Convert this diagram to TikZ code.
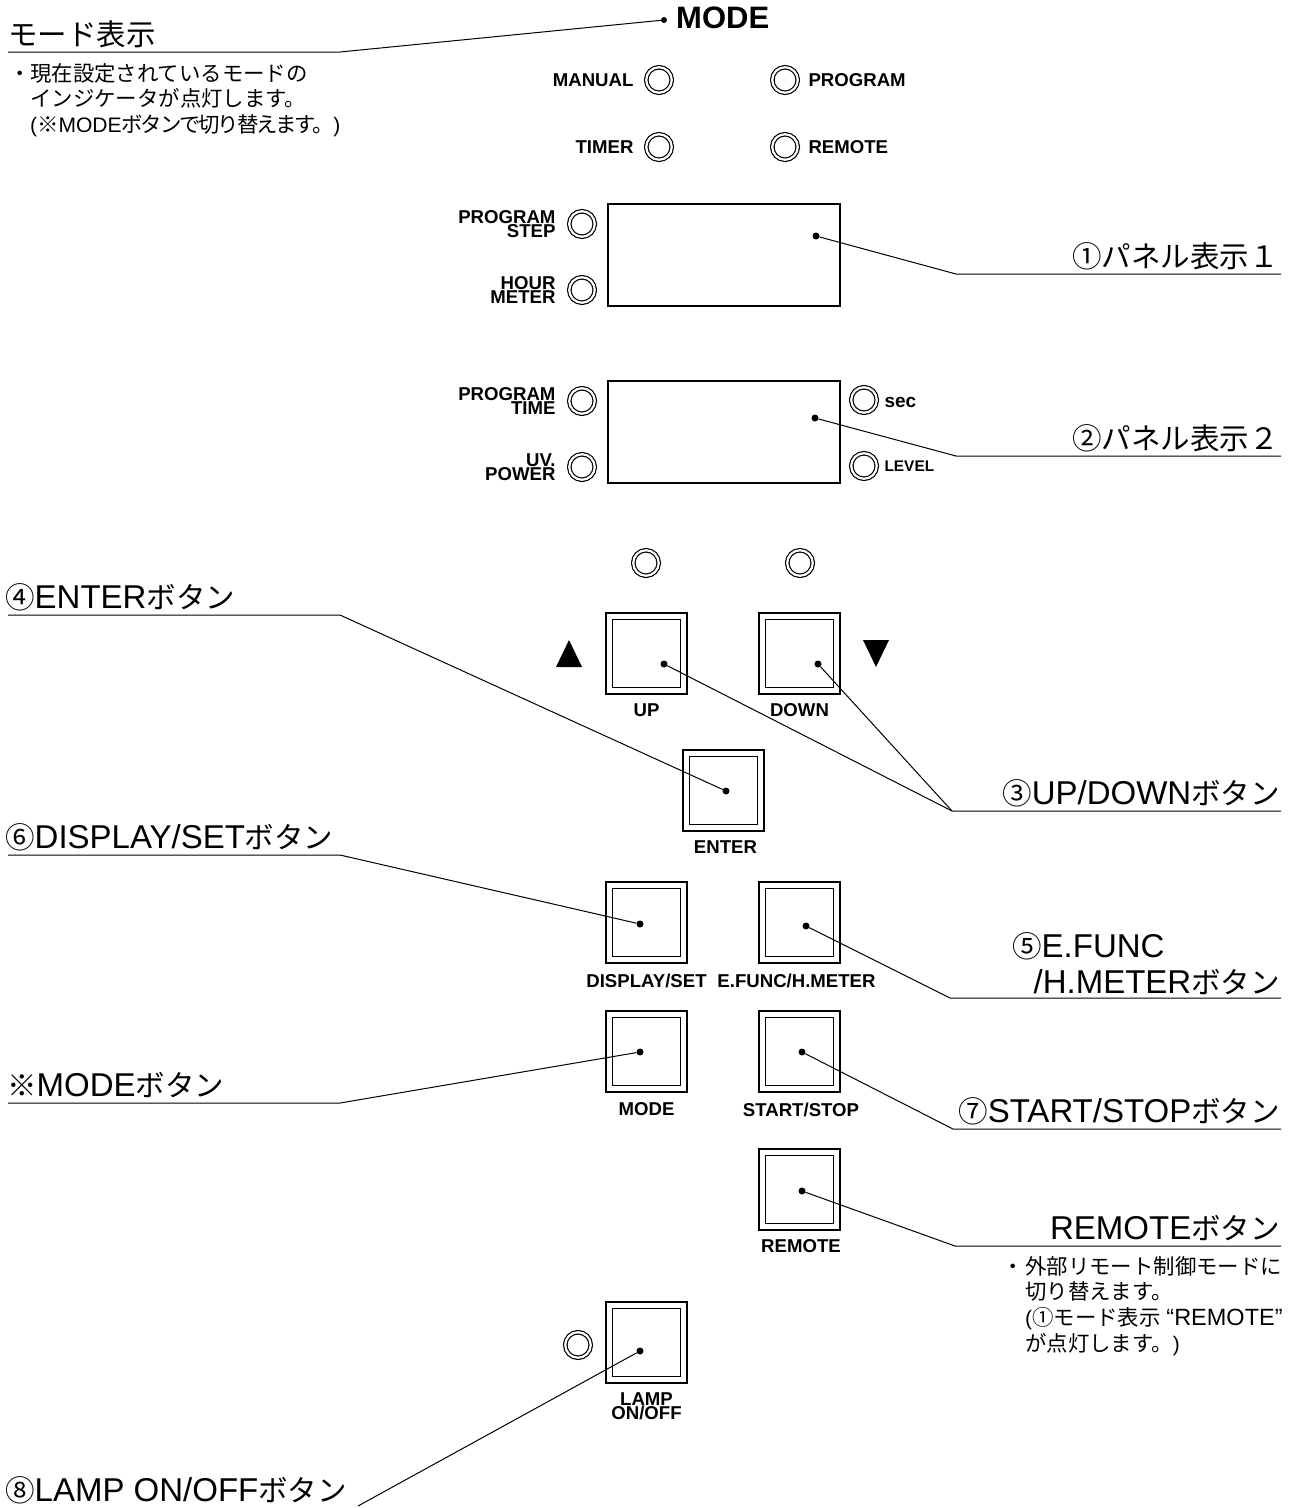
\documentclass[tikz,border=0pt]{standalone}
\usepackage{fontspec}
\usetikzlibrary{positioning}
\setmainfont{Liberation Sans}
\newfontfamily\cjk{Noto Sans CJK JP}
\newcommand{\jpt}[1]{{\cjk\fontsize{29.5}{34}\selectfont #1}}
\newcommand{\jpn}[1]{{\cjk\fontsize{21.4}{25.7}\selectfont #1}}
\newcommand{\jpc}[1]{{\cjk\addfontfeature{LetterSpace=-10}\fontsize{21.4}{25.7}\selectfont #1}}

\begin{document}
\begin{tikzpicture}[
    x=1pt, y=-1pt,
    node distance=8pt,
    panel/.style={rectangle, draw, line width=2pt, minimum width=232pt, minimum height=102pt, inner sep=0pt},
    led/.style={circle, draw, double, double distance=2.2pt, line width=1.2pt, minimum size=25.5pt, inner sep=0pt},
    pushbtn/.style={rectangle, draw, line width=2.4pt, minimum size=81pt, inner sep=0pt,
        path picture={\draw[line width=1.3pt] ([shift={(6.5pt,6.5pt)}]path picture bounding box.south west)
            rectangle ([shift={(-6.5pt,-6.5pt)}]path picture bounding box.north east);}},
    dot/.style={circle, fill=black, minimum size=7pt, inner sep=0pt},
    lead/.style={line width=1pt},
    btnlbl/.style={inner sep=0pt, align=center, font=\bfseries\fontsize{18.6}{14}\selectfont},
    ledlbl/.style={inner sep=0pt, align=right, font=\bfseries\fontsize{18.6}{14}\selectfont},
    title/.style={inner sep=0pt, font=\fontsize{33}{34}\selectfont},
    note/.style={inner sep=0pt, anchor=north west, align=left, font=\fontsize{21}{25.7}\selectfont}
]
\useasboundingbox (0,0) rectangle (1302,1508);

% Mode indicators
\node[dot, minimum size=6pt] (modedot) at (664,20) {};
\node[inner sep=0pt, anchor=west, font=\bfseries\fontsize{31}{34}\selectfont] (modetxt) at (676,18) {MODE};
\node[led] (manual) at (659,80) {};
\node[led] (program) at (785,80) {};
\node[led] (timer) at (659,147) {};
\node[led] (remote) at (785,147) {};
\node[btnlbl, left=12pt of manual] {MANUAL};
\node[btnlbl, right=10pt of program] {PROGRAM};
\node[btnlbl, left=12pt of timer] {TIMER};
\node[btnlbl, right=10pt of remote] {REMOTE};

% Panels
\node[panel] (panela) at (724,255) {};
\node[panel] (panelb) at (724,432) {};
\node[led] (pstep) at (582,224) {};
\node[led] (hour) at (582,290) {};
\node[led] (ptime) at (582,401) {};
\node[led] (uv) at (582,467) {};
\node[led] (sec) at (864,400) {};
\node[led] (level) at (864,466) {};
\node[ledlbl, left=13pt of pstep] {PROGRAM\\STEP};
\node[ledlbl, left=13pt of hour] {HOUR\\METER};
\node[ledlbl, left=13pt of ptime] {PROGRAM\\TIME};
\node[ledlbl, left=13pt of uv] {UV.\\POWER};
\node[btnlbl, right=7pt of sec, yshift=-2pt, font=\bfseries\fontsize{19}{14}\selectfont] {sec};
\node[btnlbl, right=7pt of level, font=\bfseries\fontsize{15.4}{14}\selectfont] {LEVEL};
\node[dot] (panelados) at (816,236) {};
\node[dot] (panelbdot) at (815,418) {};

% Buttons
\node[led] (upled) at (646,563) {};
\node[led] (downled) at (800,563) {};
\node[pushbtn] (up) at (646.5,653.5) {};
\node[pushbtn] (down) at (799.5,653.5) {};
\node[pushbtn] (enter) at (723.5,790.5) {};
\node[pushbtn] (disp) at (646.5,922.5) {};
\node[pushbtn] (efunc) at (799.5,922.5) {};
\node[pushbtn] (modebtn) at (646.5,1051.5) {};
\node[pushbtn] (start) at (799.5,1051.5) {};
\node[pushbtn] (rem) at (799.5,1189.5) {};
\node[pushbtn] (lamp) at (646.5,1342.5) {};
\node[led] (lampled) at (578,1345) {};
\fill (556,667) -- (582,667) -- (569,640) -- cycle;
\fill (863,640) -- (889,640) -- (876,667) -- cycle;

\node[btnlbl, below=of up] {UP};
\node[btnlbl, below=of down] {DOWN};
\node[btnlbl, below=of enter, xshift=2pt] {ENTER};
\node[btnlbl, below=10pt of disp] {DISPLAY/SET};
\node[btnlbl, below=10pt of efunc, xshift=-3pt] {E.FUNC/H.METER};
\node[btnlbl, below=9pt of modebtn] {MODE};
\node[btnlbl, below=10pt of start, xshift=1.5pt] {START/STOP};
\node[btnlbl, below=of rem, xshift=1.5pt] {REMOTE};
\node[btnlbl, below=of lamp] {LAMP\\ON/OFF};

\node[dot] (updot) at (664,664) {};
\node[dot] (downdot) at (818,664) {};
\node[dot] (enterdot) at (726,791) {};
\node[dot] (dispdot) at (640,924) {};
\node[dot] (efuncdot) at (806,926) {};
\node[dot] (modedotb) at (640,1052) {};
\node[dot] (startdot) at (802,1052) {};
\node[dot] (remdot) at (802,1191) {};
\node[dot] (lampdot) at (640,1351) {};

% Callout texts
\node[title, anchor=base west] (modettl) at (8,45) {\jpt{モード表示}};
\node[note] (modenote) at (30,63) {\jpn{現在設定されているモードの}\\\jpn{インジケータが点灯します。}\\(\jpn{※}MODE\jpc{ボタンで切り替えます。})};
\node[note, anchor=base] (modebul) at (20,81) {\jpn{・}};
\node[title, anchor=base east] (ttla) at (1279,267) {\jpt{①パネル表示１}};
\node[title, anchor=base east] (ttlb) at (1279,449) {\jpt{②パネル表示２}};
\node[title, anchor=base west] (ttlenter) at (5,608) {\jpt{④}ENTER\jpt{ボタン}};
\node[title, anchor=base east] (ttlup) at (1280,804) {\jpt{③}UP/DOWN\jpt{ボタン}};
\node[title, anchor=base west] (ttldisp) at (5,848) {\jpt{⑥}DISPLAY/SET\jpt{ボタン}};
\node[title, anchor=base west] (ttlefunc) at (1012,957) {\jpt{⑤}E.FUNC};
\node[title, anchor=base east] (ttlmeter) at (1280,993) {/H.METER\jpt{ボタン}};
\node[title, anchor=base west] (ttlmode) at (7,1096) {\jpt{※}MODE\jpt{ボタン}};
\node[title, anchor=base east] (ttlstart) at (1280,1122) {\jpt{⑦}START/STOP\jpt{ボタン}};
\node[title, anchor=base east] (ttlrem) at (1280,1239) {REMOTE\jpt{ボタン}};
\node[note] (remnote) at (1025,1256) {\jpn{外部リモート制御モードに}\\\jpn{切り替えます。}\\(\jpn{①モード表示} {\fontsize{23.5}{25.7}\selectfont “REMOTE”}\\\jpn{が点灯します。})};
\node[note, anchor=base] (rembul) at (1013,1274) {\jpn{・}};
\node[title, anchor=base west] (ttllamp) at (5,1501) {\jpt{⑧}LAMP ON/OFF\jpt{ボタン}};

% Leaders
\coordinate (modebend) at (340,52);
\coordinate (modeend) at (8,52);
\coordinate (abend) at (956,274);
\coordinate (aend) at (1281,274);
\coordinate (bbend) at (956,456);
\coordinate (bend) at (1281,456);
\coordinate (enterbend) at (340,615);
\coordinate (enterend) at (8,615);
\coordinate (upbend) at (952,811);
\coordinate (upend) at (1281,811);
\coordinate (dispbend) at (340,855);
\coordinate (dispend) at (8,855);
\coordinate (efuncbend) at (950,998);
\coordinate (efuncend) at (1281,998);
\coordinate (modebbend) at (340,1103);
\coordinate (modebend2) at (8,1103);
\coordinate (startbend) at (953,1129);
\coordinate (startend) at (1281,1129);
\coordinate (rembend) at (955,1246);
\coordinate (remend) at (1281,1246);
\coordinate (lampend) at (358,1506);

\draw[lead] (modedot) -- (modebend) -- (modeend);
\draw[lead] (panelados) -- (abend) -- (aend);
\draw[lead] (panelbdot) -- (bbend) -- (bend);
\draw[lead] (enterdot) -- (enterbend) -- (enterend);
\draw[lead] (updot) -- (upbend) -- (upend);
\draw[lead] (downdot) -- (upbend);
\draw[lead] (dispdot) -- (dispbend) -- (dispend);
\draw[lead] (efuncdot) -- (efuncbend) -- (efuncend);
\draw[lead] (modedotb) -- (modebbend) -- (modebend2);
\draw[lead] (startdot) -- (startbend) -- (startend);
\draw[lead] (remdot) -- (rembend) -- (remend);
\draw[lead] (lampdot) -- (lampend);

\end{tikzpicture}
\end{document}
